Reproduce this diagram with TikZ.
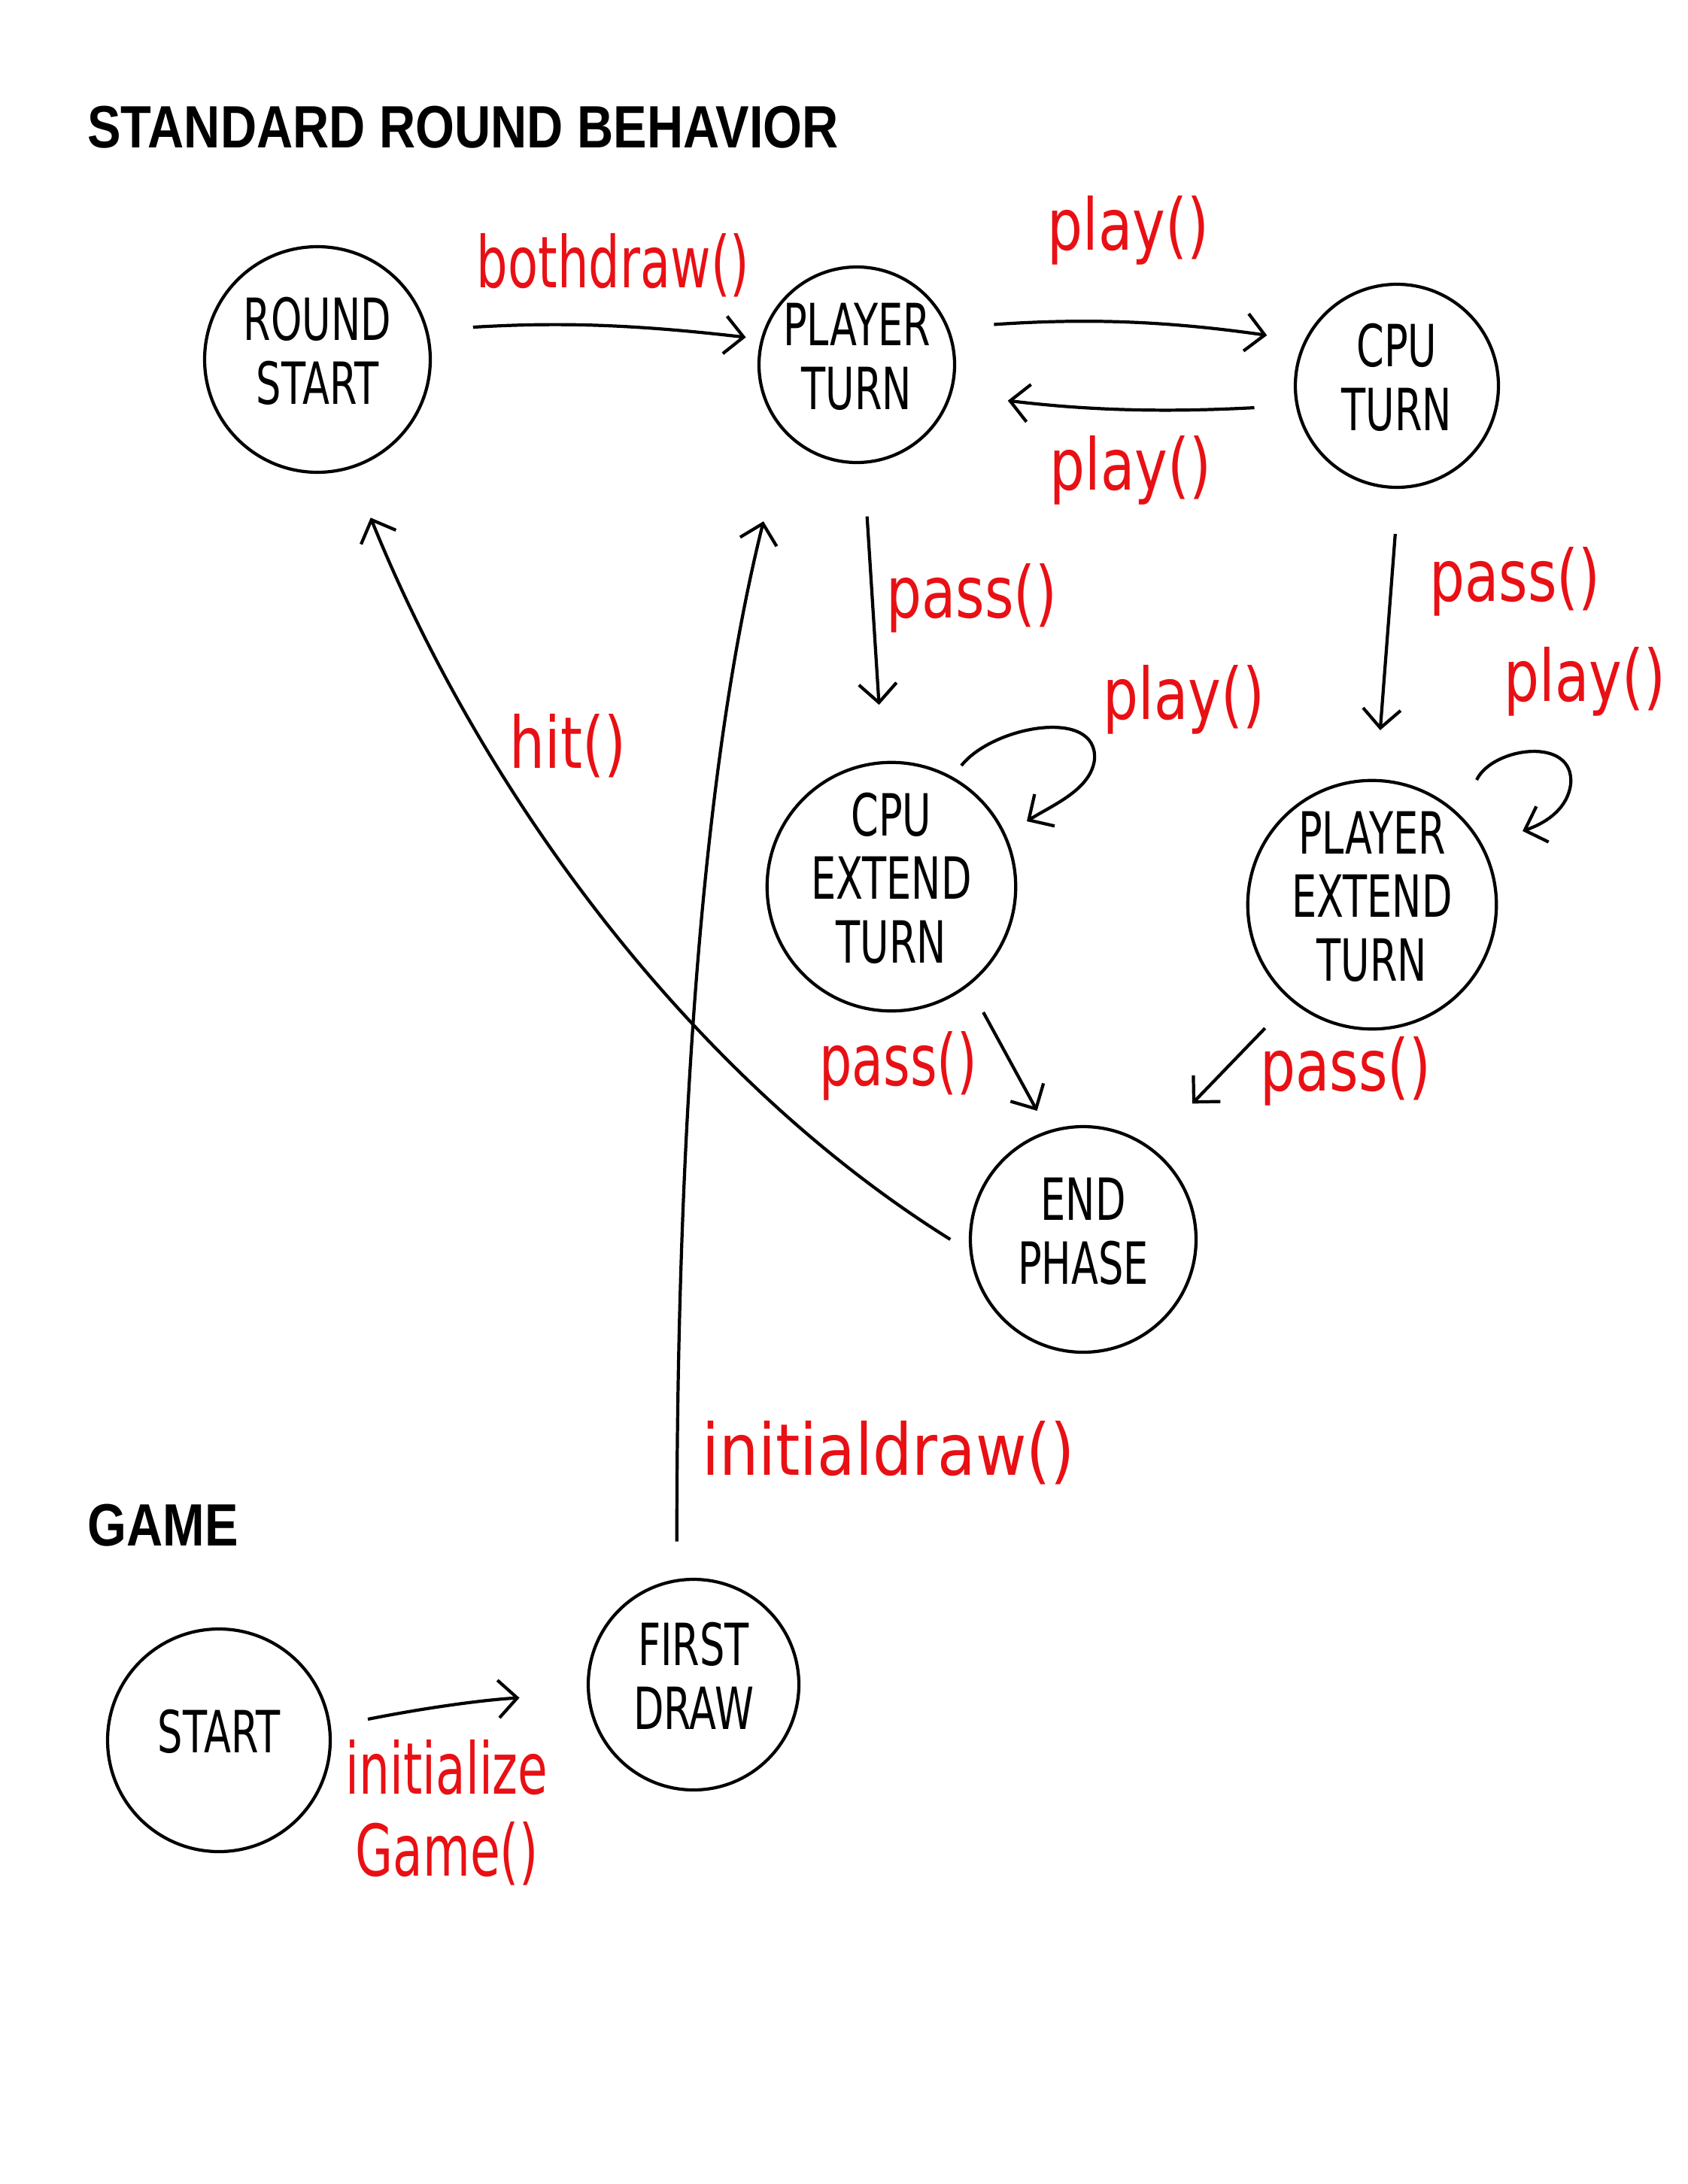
\documentclass[tikz,border=0pt]{standalone}
\usepackage{fontspec}
\setmainfont{DejaVu Sans}
\newfontfamily\titlefont{Liberation Sans}
\usetikzlibrary{arrows.meta,calc}

\definecolor{pen}{RGB}{232,16,20}

\newcommand{\statename}[1]{\scalebox{0.68}[1]{\begin{tabular}{@{}c@{}}#1\end{tabular}}}
\newcommand{\trlabel}[2][0.78]{\scalebox{#1}[1]{\begin{tabular}{@{}c@{}}#2\end{tabular}}}

\tikzset{
	state/.style={draw, circle, line width=1.2pt, inner sep=0pt, font=\fontsize{22}{24}\selectfont},
	trans/.style={line width=1.2pt, -{Straight Barb[length=2.5mm,width=5mm]}},
	trlbl/.style={text=pen, font=\fontsize{27}{31}\selectfont},
	heading/.style={anchor=base west, font=\titlefont\bfseries\fontsize{22.6}{26}\selectfont}
}

\begin{document}
\begin{tikzpicture}
	\useasboundingbox (0,0) rectangle (22.44,-29.04);
	\node[heading] (roundtitle) at (1.04,-1.96) {\scalebox{0.84}[1]{STANDARD ROUND BEHAVIOR}};
	\node[heading] (gametitle) at (1.04,-20.55) {\scalebox{0.84}[1]{GAME}};

	\node[state, minimum size=3cm] (roundstart) at (4.22,-4.78) {\statename{ROUND\\START}};
	\node[state, minimum size=2.6cm] (playerturn) at (11.39,-4.85) {\statename{PLAYER\\TURN}};
	\node[state, minimum size=2.7cm] (cputurn) at (18.57,-5.13) {\statename{CPU\\TURN}};
	\node[state, minimum size=2.9cm] (cpuext) at (11.85,-11.79) {\statename{CPU\\EXTEND\\TURN}};
	\node[state, minimum size=3.2cm] (playerext) at (18.24,-12.03) {\statename{PLAYER\\EXTEND\\TURN}};
	\node[state, minimum size=3cm] (endphase) at (14.40,-16.48) {\statename{END\\PHASE}};
	\node[state, minimum size=2.96cm] (start) at (2.91,-23.14) {\statename{START}};
	\node[state, minimum size=2.8cm] (firstdraw) at (9.22,-22.40) {\statename{FIRST\\DRAW}};

	\draw[trans, shorten <=6mm, shorten >=2mm] (roundstart.15) to[bend left=5] (playerturn.165);
	\draw[trans, shorten <=6mm, shorten >=5mm] (playerturn.22) to[bend left=6] (cputurn.154);
	\draw[trans, shorten <=5.5mm, shorten >=7.5mm] (cputurn.191) to[bend left=5] (playerturn.-17);
	\draw[trans, shorten <=7mm, shorten >=7.5mm] (playerturn.-86) -- (cpuext.94);
	\draw[trans, shorten <=6mm, shorten >=6.5mm] (cputurn.-89) -- (playerext.88);
	\draw[trans] ($(cpuext)+(0.93,1.61)$) .. controls ($(cpuext)+(1.35,2.14)$) and ($(cpuext)+(2.75,2.39)$) .. ($(cpuext)+(2.70,1.69)$)
		.. controls ($(cpuext)+(2.65,1.29)$) and ($(cpuext)+(2.15,1.09)$) .. ($(cpuext)+(1.80,0.87)$);
	\draw[trans] ($(playerext)+(1.39,1.66)$) .. controls ($(playerext)+(1.6,2.1)$) and ($(playerext)+(2.7,2.25)$) .. ($(playerext)+(2.64,1.6)$)
		.. controls ($(playerext)+(2.6,1.3)$) and ($(playerext)+(2.35,1.1)$) .. ($(playerext)+(2.0,0.98)$);
	\draw[trans, shorten <=4mm, shorten >=3mm] (cpuext.-52) -- (endphase.108);
	\draw[trans, shorten <=5mm, shorten >=8mm] (playerext.-130) -- (endphase.54);
	\draw[trans, shorten <=3mm, shorten >=7mm] (endphase.186) .. controls +(148:4.5) and +(-68:4.5) .. (roundstart.-73);
	\draw[trans, shorten <=5mm, shorten >=12mm] (firstdraw.99) .. controls +(90:5) and +(-104:5) .. (playerturn.224);
	\draw[trans, shorten <=5mm, shorten >=9mm] (start.7) to[bend left=4] (firstdraw.185);

	\node[trlbl] (lbothdraw) at (8.15,-3.61) {\trlabel[0.69]{bothdraw()}};
	\node[trlbl] (lplayup) at (15.00,-3.11) {\trlabel{play()}};
	\node[trlbl] (lplaydown) at (15.03,-6.30) {\trlabel{play()}};
	\node[trlbl] (lpassplayer) at (12.92,-8.00) {\trlabel{pass()}};
	\node[trlbl] (lpasscpu) at (20.14,-7.78) {\trlabel{pass()}};
	\node[trlbl] (lplaycpuext) at (15.74,-9.35) {\trlabel{play()}};
	\node[trlbl] (lplayplayerext) at (21.07,-9.11) {\trlabel{play()}};
	\node[trlbl] (lpasscpuext) at (11.94,-14.22) {\trlabel[0.72]{pass()}};
	\node[trlbl] (lpassplayerext) at (17.89,-14.29) {\trlabel{pass()}};
	\node[trlbl] (lhit) at (7.55,-10.0) {\trlabel{hit()}};
	\node[trlbl] (linitialdraw) at (11.81,-19.40) {\trlabel[0.87]{initialdraw()}};
	\node[trlbl] (linitialize) at (5.94,-24.18) {\trlabel[0.68]{initialize\\Game()}};
\end{tikzpicture}
\end{document}
